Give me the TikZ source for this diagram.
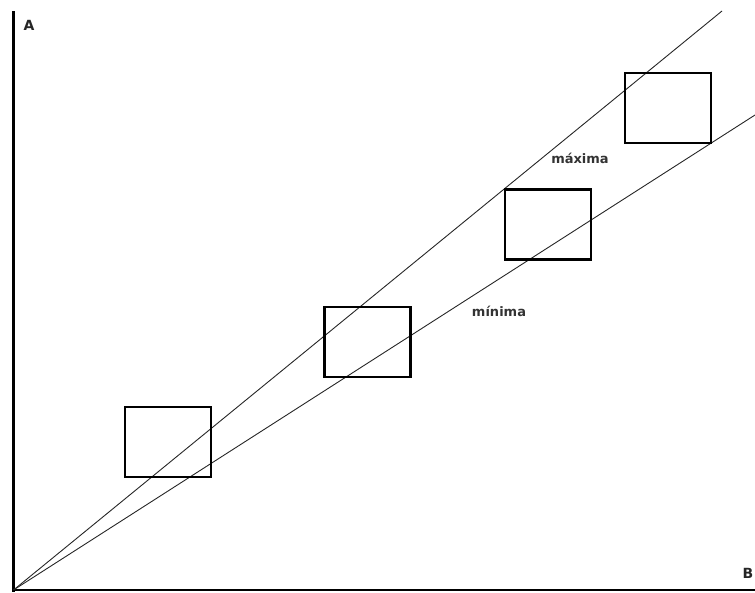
\documentclass[tikz,border=0pt]{standalone}
\usepackage{fontspec}
\setmainfont{DejaVu Sans}
\usetikzlibrary{positioning}
\tikzset{
  axisline/.style={line width=2.2pt, black},
  rayline/.style={line width=0.9pt, black!85},
  slotbox/.style={draw, line width=2.4pt, minimum width=86pt, minimum height=70pt, inner sep=0pt},
  axislabel/.style={font=\fontsize{14}{16}\selectfont\bfseries, text=black!85, inner sep=0pt},
  raylabel/.style={font=\fontsize{13}{15}\selectfont\bfseries, text=black!80, inner sep=0pt}
}

\begin{document}
\begin{tikzpicture}[x=1pt, y=-1pt]
      \useasboundingbox (0,0) rectangle (755,592);
      % axes
      \coordinate (origin) at (13.5,590);
      \coordinate (ytop) at (13.5,11);
      \coordinate (xend) at (755,590);
      \draw[axisline] (ytop) -- (origin |- 0,591.5);
      \draw[axisline] (13,590) -- (xend);
      \node[axislabel] (alab) at (29,25) {A};
      \node[axislabel] (blab) at (748,573.5) {B};
      % rays
      \coordinate (maxend) at (722,11);
      \coordinate (minend) at (755,115);
      \draw[rayline] (origin) -- (maxend);
      \draw[rayline] (origin) -- (minend);
      \node[raylabel, anchor=base] (maxlab) at (580,163) {máxima};
      \node[raylabel, anchor=base] (minlab) at (499,316) {mínima};
      % boxes
      \node[slotbox] (box1) at (168,442) {};
      \node[slotbox] (box2) at (367.5,342) {};
      \node[slotbox] (box3) at (548,224.5) {};
      \node[slotbox] (box4) at (668,108) {};
    \end{tikzpicture}
\end{document}
